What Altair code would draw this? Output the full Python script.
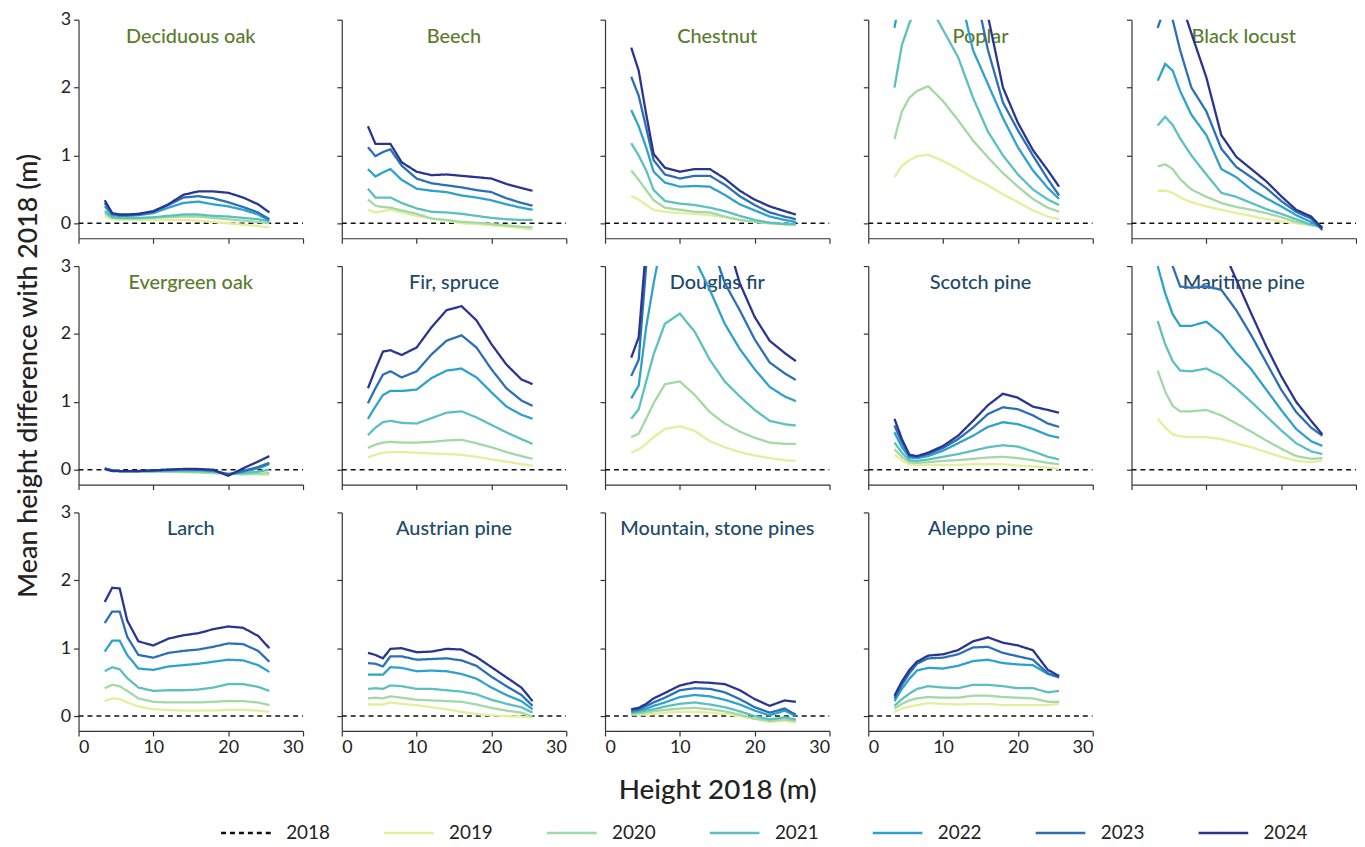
import altair as alt
import pandas as pd

# Height classes in 2018 (m) at which the curves are read
HEIGHT_2018 = [3.5, 4.5, 5.5, 6.5, 8, 10, 12, 14, 16, 18, 20, 22, 24, 25.5]
YEARS = ["2019", "2020", "2021", "2022", "2023", "2024"]
LEGEND_YEARS = ["2018"] + YEARS
COLORS = ["#111111", "#e3ef9a", "#a3d9a5", "#5bc0bf", "#2ca2cc", "#2b6fb5", "#2a3591"]

# each species: one list per year 2019..2024
deciduous_oak = [
    [0.10, 0.06, 0.05, 0.05, 0.05, 0.05, 0.05, 0.05, 0.04, 0.02, 0.00, -0.02, -0.04, -0.06],
    [0.14, 0.08, 0.07, 0.07, 0.07, 0.08, 0.09, 0.10, 0.10, 0.08, 0.06, 0.04, 0.02, 0.00],
    [0.18, 0.09, 0.08, 0.08, 0.08, 0.09, 0.11, 0.13, 0.13, 0.11, 0.10, 0.08, 0.06, 0.03],
    [0.25, 0.12, 0.11, 0.11, 0.12, 0.15, 0.23, 0.30, 0.32, 0.28, 0.25, 0.20, 0.13, 0.04],
    [0.30, 0.14, 0.12, 0.12, 0.13, 0.17, 0.27, 0.38, 0.40, 0.37, 0.31, 0.24, 0.16, 0.06],
    [0.34, 0.15, 0.13, 0.13, 0.14, 0.18, 0.28, 0.42, 0.47, 0.47, 0.45, 0.38, 0.28, 0.16],
]
beech = [
    [0.20, 0.16, 0.18, 0.20, 0.16, 0.11, 0.07, 0.04, 0.00, -0.01, -0.03, -0.05, -0.07, -0.09],
    [0.35, 0.26, 0.24, 0.23, 0.19, 0.14, 0.07, 0.05, 0.02, 0.01, -0.01, -0.03, -0.05, -0.06],
    [0.51, 0.38, 0.38, 0.38, 0.30, 0.22, 0.17, 0.16, 0.14, 0.11, 0.08, 0.06, 0.05, 0.05],
    [0.80, 0.69, 0.75, 0.80, 0.64, 0.51, 0.48, 0.46, 0.41, 0.38, 0.34, 0.28, 0.23, 0.20],
    [1.12, 0.99, 1.05, 1.09, 0.85, 0.66, 0.59, 0.56, 0.53, 0.49, 0.46, 0.37, 0.30, 0.26],
    [1.43, 1.17, 1.17, 1.17, 0.90, 0.76, 0.71, 0.72, 0.70, 0.68, 0.66, 0.58, 0.52, 0.48],
]
chestnut = [
    [0.40, 0.35, 0.27, 0.20, 0.17, 0.15, 0.14, 0.12, 0.09, 0.05, 0.02, 0.00, -0.02, -0.03],
    [0.78, 0.64, 0.49, 0.34, 0.23, 0.20, 0.17, 0.16, 0.10, 0.05, 0.02, 0.00, -0.01, -0.02],
    [1.18, 1.00, 0.78, 0.49, 0.33, 0.29, 0.27, 0.23, 0.18, 0.11, 0.05, 0.01, -0.01, -0.01],
    [1.67, 1.43, 1.12, 0.76, 0.60, 0.54, 0.55, 0.54, 0.42, 0.28, 0.19, 0.10, 0.05, 0.02],
    [2.16, 1.88, 1.41, 0.93, 0.72, 0.66, 0.70, 0.70, 0.57, 0.40, 0.27, 0.16, 0.10, 0.06],
    [2.59, 2.25, 1.61, 1.02, 0.82, 0.76, 0.80, 0.80, 0.66, 0.48, 0.35, 0.25, 0.18, 0.13],
]
poplar = [
    [0.68, 0.85, 0.93, 0.99, 1.01, 0.92, 0.80, 0.67, 0.56, 0.43, 0.31, 0.19, 0.10, 0.06],
    [1.24, 1.65, 1.85, 1.95, 2.02, 1.80, 1.52, 1.22, 0.97, 0.74, 0.54, 0.36, 0.23, 0.17],
    [2.00, 2.63, 2.95, 3.20, 3.25, 2.85, 2.45, 1.85, 1.35, 1.00, 0.72, 0.50, 0.35, 0.27],
    [2.88, 3.50, 3.80, 4.00, 4.10, 3.90, 3.50, 2.55, 2.05, 1.55, 1.12, 0.78, 0.52, 0.36],
    [3.50, 4.00, 4.30, 4.50, 4.60, 4.50, 4.20, 3.60, 2.55, 1.78, 1.37, 1.00, 0.65, 0.41],
    [3.60, 4.20, 4.50, 4.70, 4.80, 4.70, 4.50, 4.00, 3.05, 2.00, 1.48, 1.08, 0.78, 0.54],
]
black_locust = [
    [0.48, 0.48, 0.45, 0.38, 0.31, 0.25, 0.20, 0.15, 0.11, 0.06, 0.03, 0.00, -0.03, -0.06],
    [0.84, 0.87, 0.80, 0.65, 0.50, 0.39, 0.30, 0.24, 0.20, 0.15, 0.09, 0.02, -0.02, -0.05],
    [1.44, 1.57, 1.45, 1.25, 1.00, 0.72, 0.45, 0.39, 0.30, 0.21, 0.14, 0.06, -0.02, -0.05],
    [2.10, 2.35, 2.25, 1.95, 1.60, 1.30, 0.80, 0.68, 0.50, 0.37, 0.25, 0.12, 0.02, -0.07],
    [2.88, 3.20, 3.00, 2.55, 2.00, 1.65, 1.10, 0.83, 0.68, 0.52, 0.33, 0.17, 0.07, -0.10],
    [3.60, 3.80, 3.60, 3.30, 2.80, 2.15, 1.30, 0.98, 0.80, 0.62, 0.40, 0.20, 0.10, -0.07],
]
evergreen_oak = [
    [0.01, -0.01, -0.02, -0.02, -0.03, -0.03, -0.03, -0.04, -0.04, -0.05, -0.05, -0.06, -0.07, -0.08],
    [0.01, -0.01, -0.02, -0.02, -0.03, -0.03, -0.03, -0.03, -0.04, -0.05, -0.06, -0.07, -0.06, -0.05],
    [0.01, -0.01, -0.02, -0.02, -0.02, -0.02, -0.02, -0.02, -0.02, -0.03, -0.06, -0.05, -0.03, 0.00],
    [0.02, -0.01, -0.02, -0.02, -0.02, -0.02, -0.01, 0.00, 0.00, -0.02, -0.07, -0.03, 0.02, 0.08],
    [0.02, -0.01, -0.02, -0.02, -0.02, -0.01, 0.00, 0.01, 0.00, -0.01, -0.07, -0.02, 0.04, 0.10],
    [0.01, -0.02, -0.02, -0.02, -0.02, -0.01, 0.00, 0.01, 0.01, 0.00, -0.09, 0.02, 0.12, 0.20],
]
fir_spruce = [
    [0.18, 0.22, 0.25, 0.26, 0.26, 0.25, 0.24, 0.23, 0.22, 0.19, 0.15, 0.12, 0.08, 0.06],
    [0.32, 0.37, 0.40, 0.41, 0.40, 0.40, 0.41, 0.43, 0.44, 0.39, 0.33, 0.26, 0.20, 0.16],
    [0.51, 0.62, 0.70, 0.72, 0.69, 0.68, 0.76, 0.84, 0.86, 0.77, 0.66, 0.55, 0.45, 0.38],
    [0.75, 0.93, 1.10, 1.16, 1.16, 1.18, 1.35, 1.46, 1.49, 1.36, 1.14, 0.93, 0.81, 0.75],
    [0.98, 1.20, 1.40, 1.45, 1.36, 1.45, 1.70, 1.90, 1.98, 1.80, 1.48, 1.20, 1.02, 0.94],
    [1.20, 1.48, 1.74, 1.76, 1.69, 1.80, 2.10, 2.35, 2.41, 2.20, 1.85, 1.55, 1.33, 1.26],
]
douglas_fir = [
    [0.25, 0.30, 0.38, 0.48, 0.60, 0.64, 0.57, 0.42, 0.33, 0.26, 0.21, 0.17, 0.14, 0.13],
    [0.48, 0.53, 0.75, 0.98, 1.26, 1.30, 1.10, 0.85, 0.68, 0.56, 0.47, 0.40, 0.38, 0.38],
    [0.75, 0.89, 1.30, 1.70, 2.15, 2.30, 2.03, 1.62, 1.30, 1.08, 0.88, 0.72, 0.67, 0.65],
    [1.05, 1.24, 2.10, 2.75, 3.60, 3.90, 3.10, 2.65, 2.15, 1.78, 1.48, 1.22, 1.08, 1.01],
    [1.38, 1.62, 3.00, 3.80, 4.50, 4.70, 4.30, 3.40, 2.75, 2.35, 1.92, 1.58, 1.42, 1.32],
    [1.65, 1.95, 3.30, 4.20, 4.90, 5.10, 4.90, 4.30, 3.50, 2.75, 2.25, 1.90, 1.72, 1.60],
]
scotch_pine = [
    [0.22, 0.14, 0.08, 0.07, 0.07, 0.07, 0.07, 0.08, 0.08, 0.08, 0.06, 0.05, 0.03, 0.01],
    [0.30, 0.19, 0.11, 0.10, 0.11, 0.13, 0.14, 0.16, 0.18, 0.19, 0.17, 0.14, 0.10, 0.08],
    [0.40, 0.25, 0.14, 0.13, 0.15, 0.19, 0.23, 0.28, 0.33, 0.36, 0.34, 0.27, 0.19, 0.15],
    [0.55, 0.33, 0.18, 0.17, 0.20, 0.28, 0.39, 0.50, 0.63, 0.70, 0.67, 0.60, 0.51, 0.47],
    [0.65, 0.40, 0.20, 0.19, 0.23, 0.32, 0.45, 0.62, 0.82, 0.92, 0.89, 0.80, 0.68, 0.63],
    [0.75, 0.45, 0.22, 0.20, 0.25, 0.35, 0.50, 0.72, 0.95, 1.12, 1.06, 0.93, 0.88, 0.84],
]
maritime_pine = [
    [0.75, 0.62, 0.52, 0.49, 0.48, 0.48, 0.45, 0.39, 0.33, 0.26, 0.19, 0.13, 0.11, 0.13],
    [1.46, 1.15, 0.94, 0.86, 0.86, 0.88, 0.80, 0.68, 0.56, 0.43, 0.31, 0.20, 0.16, 0.17],
    [2.19, 1.85, 1.60, 1.46, 1.45, 1.49, 1.38, 1.20, 1.00, 0.79, 0.58, 0.39, 0.27, 0.23],
    [3.00, 2.60, 2.29, 2.12, 2.12, 2.18, 2.00, 1.72, 1.48, 1.18, 0.88, 0.60, 0.42, 0.35],
    [3.90, 3.40, 3.00, 2.70, 2.68, 2.70, 2.65, 2.35, 1.98, 1.58, 1.18, 0.85, 0.62, 0.50],
    [5.00, 4.80, 4.60, 4.40, 4.20, 3.80, 3.30, 2.80, 2.30, 1.82, 1.38, 1.00, 0.72, 0.52],
]
larch = [
    [0.22, 0.26, 0.25, 0.20, 0.14, 0.10, 0.09, 0.08, 0.08, 0.08, 0.09, 0.09, 0.08, 0.06],
    [0.41, 0.46, 0.44, 0.37, 0.26, 0.21, 0.20, 0.20, 0.20, 0.21, 0.22, 0.22, 0.20, 0.16],
    [0.66, 0.72, 0.69, 0.56, 0.42, 0.37, 0.38, 0.38, 0.39, 0.42, 0.47, 0.47, 0.43, 0.37],
    [0.95, 1.11, 1.11, 0.90, 0.70, 0.68, 0.73, 0.75, 0.77, 0.80, 0.83, 0.82, 0.75, 0.65],
    [1.37, 1.54, 1.54, 1.17, 0.90, 0.86, 0.93, 0.96, 0.98, 1.02, 1.07, 1.06, 0.96, 0.80],
    [1.68, 1.89, 1.88, 1.41, 1.10, 1.04, 1.14, 1.19, 1.22, 1.28, 1.32, 1.30, 1.18, 1.00],
]
austrian_pine = [
    [0.17, 0.17, 0.17, 0.20, 0.18, 0.16, 0.13, 0.10, 0.06, 0.03, 0.01, 0.00, -0.01, -0.02],
    [0.26, 0.27, 0.26, 0.29, 0.27, 0.24, 0.23, 0.22, 0.21, 0.17, 0.12, 0.08, 0.05, -0.01],
    [0.40, 0.41, 0.40, 0.45, 0.44, 0.40, 0.40, 0.38, 0.36, 0.32, 0.24, 0.18, 0.13, 0.05],
    [0.61, 0.61, 0.61, 0.72, 0.71, 0.66, 0.67, 0.66, 0.62, 0.55, 0.42, 0.31, 0.22, 0.10],
    [0.78, 0.77, 0.73, 0.88, 0.88, 0.83, 0.84, 0.85, 0.82, 0.74, 0.58, 0.44, 0.31, 0.15],
    [0.93, 0.90, 0.85, 0.99, 1.00, 0.94, 0.95, 0.99, 0.98, 0.87, 0.72, 0.57, 0.42, 0.22],
]
mountain_stone_pines = [
    [0.02, 0.02, 0.02, 0.03, 0.05, 0.06, 0.06, 0.05, 0.03, 0.00, -0.04, -0.09, -0.07, -0.10],
    [0.03, 0.04, 0.05, 0.07, 0.09, 0.11, 0.12, 0.10, 0.07, 0.02, -0.04, -0.07, -0.05, -0.07],
    [0.05, 0.06, 0.08, 0.10, 0.14, 0.18, 0.20, 0.17, 0.13, 0.07, 0.00, -0.05, -0.02, -0.05],
    [0.06, 0.08, 0.11, 0.15, 0.20, 0.28, 0.31, 0.29, 0.24, 0.17, 0.08, 0.01, 0.08, 0.00],
    [0.08, 0.10, 0.15, 0.20, 0.27, 0.38, 0.41, 0.40, 0.35, 0.25, 0.13, 0.05, 0.11, 0.02],
    [0.10, 0.12, 0.18, 0.26, 0.34, 0.45, 0.50, 0.49, 0.47, 0.38, 0.25, 0.15, 0.23, 0.21],
]
aleppo_pine = [
    [0.06, 0.11, 0.14, 0.16, 0.19, 0.18, 0.17, 0.18, 0.18, 0.16, 0.16, 0.16, 0.16, 0.18],
    [0.11, 0.18, 0.23, 0.26, 0.28, 0.27, 0.27, 0.30, 0.30, 0.28, 0.27, 0.26, 0.21, 0.21],
    [0.15, 0.25, 0.33, 0.40, 0.44, 0.42, 0.41, 0.46, 0.46, 0.44, 0.41, 0.41, 0.35, 0.37],
    [0.22, 0.40, 0.55, 0.67, 0.71, 0.70, 0.74, 0.81, 0.83, 0.78, 0.76, 0.75, 0.62, 0.57],
    [0.26, 0.46, 0.63, 0.77, 0.85, 0.86, 0.91, 1.01, 1.02, 0.93, 0.88, 0.83, 0.63, 0.57],
    [0.30, 0.51, 0.68, 0.80, 0.89, 0.91, 0.97, 1.10, 1.16, 1.08, 1.04, 0.97, 0.68, 0.59],
]

SPECIES = [
    ("Deciduous oak", deciduous_oak, "broadleaf"),
    ("Beech", beech, "broadleaf"),
    ("Chestnut", chestnut, "broadleaf"),
    ("Poplar", poplar, "broadleaf"),
    ("Black locust", black_locust, "broadleaf"),
    ("Evergreen oak", evergreen_oak, "broadleaf"),
    ("Fir, spruce", fir_spruce, "conifer"),
    ("Douglas fir", douglas_fir, "conifer"),
    ("Scotch pine", scotch_pine, "conifer"),
    ("Maritime pine", maritime_pine, "conifer"),
    ("Larch", larch, "conifer"),
    ("Austrian pine", austrian_pine, "conifer"),
    ("Mountain, stone pines", mountain_stone_pines, "conifer"),
    ("Aleppo pine", aleppo_pine, "conifer"),
]
TITLE_COLORS = {"broadleaf": "#5a7b2c", "conifer": "#1d4a68"}
FONT = "Lato"
W, H = 226, 220


def panel(i, name, series, group):
    row, col = divmod(i, 5)
    recs = []
    for yr, vals in zip(YEARS, series):
        for x, v in zip(HEIGHT_2018, vals):
            recs.append({"x": x, "y": v, "year": yr})
    df = pd.DataFrame(recs)
    ref = pd.DataFrame({"x": [0, 30], "y": [0, 0], "year": ["2018", "2018"]})
    lab = pd.DataFrame({"label": [name]})

    xaxis = dict(values=[0, 10, 20, 30], labels=(row == 2), title="")
    if row == 2 and col == 2:
        xaxis.update(title="Height 2018 (m)", titleFontSize=28, titleFontWeight=500,
                     titlePadding=20, titleColor="#222")
    yaxis = dict(values=[0, 1, 2, 3], labels=(col == 0), title="")
    if row == 1 and col == 0:
        yaxis.update(title="Mean height difference with 2018 (m)", titleFontSize=27,
                     titleFontWeight=500, titlePadding=18, titleColor="#222")

    X = alt.X("x:Q", scale=alt.Scale(domain=[0, 30], nice=False), axis=alt.Axis(**xaxis))
    Y = alt.Y("y:Q", scale=alt.Scale(domain=[-0.22, 3], nice=False, zero=False),
              axis=alt.Axis(**yaxis))
    legend = alt.Legend(orient="none", legendX=142, legendY=792, direction="horizontal",
                        symbolType="stroke", symbolSize=2500, symbolStrokeWidth=2.5,
                        labelFontSize=19, labelFont=FONT, labelColor="#222",
                        columnPadding=48, labelOffset=14, title="")
    color = alt.Color("year:N", scale=alt.Scale(domain=LEGEND_YEARS, range=COLORS), legend=legend)
    dash = alt.StrokeDash("year:N",
                          scale=alt.Scale(domain=LEGEND_YEARS,
                                          range=[[5, 4]] + [[1, 0]] * 6),
                          legend=legend)

    title = alt.Chart(lab).mark_text(font=FONT, fontSize=20, fontWeight=500,
                                     color=TITLE_COLORS[group], baseline="middle",
                                     align="center").encode(
        x=alt.value(W / 2), y=alt.value(17), text="label:N")
    zero = alt.Chart(ref).mark_line(strokeWidth=1.5, clip=True).encode(
        x=X, y=Y, color=color, strokeDash=dash)
    lines = alt.Chart(df).mark_line(strokeWidth=2.3, clip=True).encode(
        x=X, y=Y, color=color, strokeDash=dash, order="x:Q")
    return alt.layer(title, zero, lines).properties(width=W, height=H)


panels = [panel(i, n, s, g) for i, (n, s, g) in enumerate(SPECIES)]

chart = alt.concat(*panels, columns=5, spacing={"row": 28, "column": 39},
                   bounds="flush").properties(
    padding={"left": 6, "top": 0, "right": 0, "bottom": 0}
).configure_view(stroke=None).configure_axis(
    grid=False, domainColor="#333", tickColor="#333", domainWidth=1.2, tickWidth=1.2,
    tickSize=5, labelFontSize=18, labelFont=FONT, labelColor="#222", labelPadding=3,
    titleFont=FONT
)

chart.save("out.html", embed_options={"renderer": "svg", "actions": False})
